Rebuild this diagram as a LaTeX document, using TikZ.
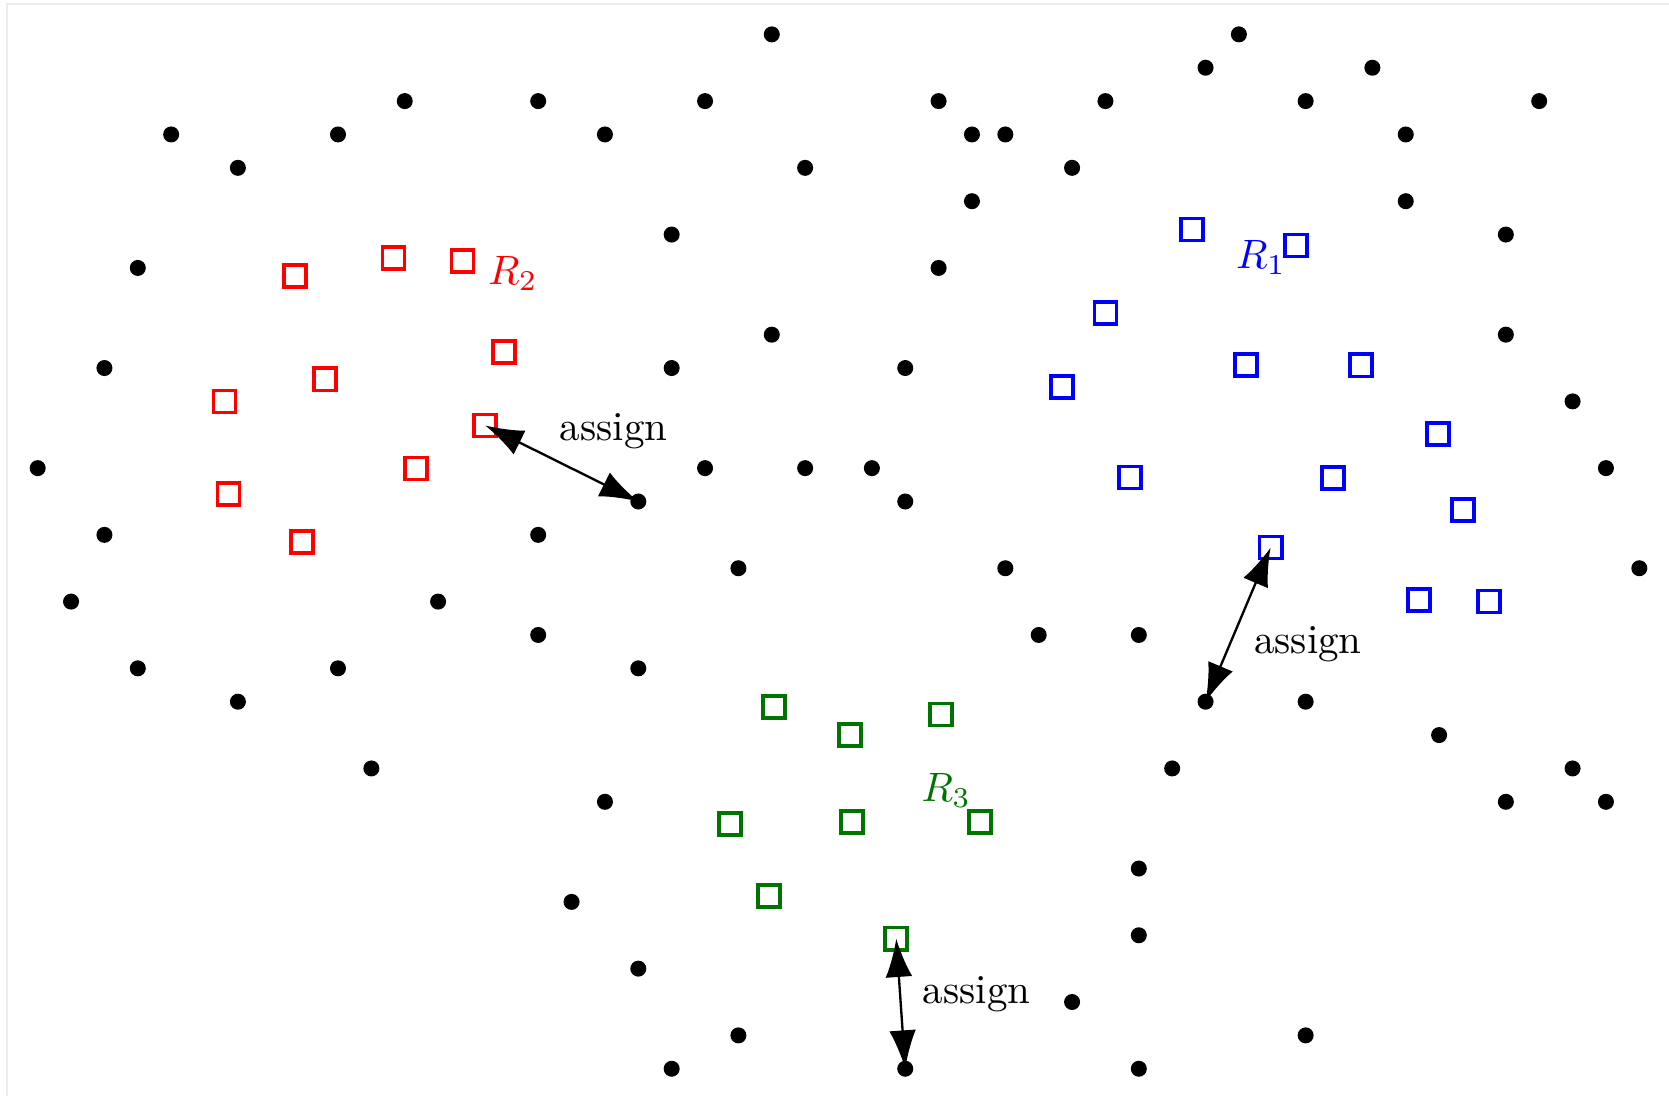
\documentclass[tikz,border=0pt]{standalone}
\usetikzlibrary{arrows.meta}
\colorlet{rgreen}{green!45!black}
\begin{document}
\begin{tikzpicture}[
    pt/.style={circle, fill=black, inner sep=0pt, minimum size=0.48cm},
    cand/.style={rectangle, draw=#1, line width=3.2pt, inner sep=0pt, minimum size=0.66cm},
    lab/.style={scale=3.5, inner sep=0pt},
    assignarrow/.style={{Latex[length=11.5mm,width=8mm]}-{Latex[length=11.5mm,width=8mm]}, line width=2pt}
  ]
  \useasboundingbox (-1.13,1.03) rectangle (48.89,-31.82);
  % Frame
  \draw[gray!15, line width=1.2pt] (-0.92,-31.82) -- (-0.92,0.91) -- (48.89,0.91);
  % Region R2
  \foreach \x/\y [count=\i] in {7.72/7.24, 10.66/6.70, 12.73/6.80, 13.97/9.52, 8.60/10.34,
      5.60/11.00, 13.41/11.72, 11.33/13.01, 5.72/13.77, 7.92/15.22} {
    \node[cand=red] (r\i) at (\x,-\y) {};
  }
  % Region R1
  \foreach \x/\y [count=\i] in {34.60/5.85, 37.70/6.33, 32.00/8.36, 30.69/10.56, 36.22/9.90,
      39.65/9.92, 41.97/11.97, 32.73/13.28, 38.83/13.30, 42.72/14.26, 36.95/15.38,
      41.40/16.95, 43.50/17.00} {
    \node[cand=blue] (b\i) at (\x,-\y) {};
  }
  % Region R3
  \foreach \x/\y [count=\i] in {22.07/20.16, 24.35/21.00, 27.08/20.38, 20.74/23.67,
      24.41/23.60, 28.24/23.60, 21.92/25.82, 25.73/27.10} {
    \node[cand=rgreen] (g\i) at (\x,-\y) {};
  }
  % Points on the grid
  \foreach \k/\j in {22/0, 36/0, 35/1, 40/1,
      11/2, 15/2, 20/2, 27/2, 32/2, 38/2, 45/2,
      4/3, 9/3, 17/3, 28/3, 29/3, 41/3,
      6/4, 23/4, 31/4, 28/5, 41/5, 19/6, 44/6, 3/7, 27/7,
      22/9, 44/9, 2/10, 19/10, 26/10, 46/11,
      0/13, 20/13, 23/13, 25/13, 47/13, 18/14, 26/14,
      2/15, 15/15, 21/16, 29/16, 48/16, 1/17, 12/17,
      15/18, 30/18, 33/18, 3/19, 9/19, 18/19,
      6/20, 35/20, 38/20, 42/21, 10/22, 34/22, 46/22,
      17/23, 44/23, 47/23, 33/25, 16/26, 33/27, 18/28,
      31/29, 21/30, 38/30, 19/31, 26/31, 33/31} {
    \node[pt] (p\k-\j) at (\k,-\j) {};
  }
  % Assignments
  \draw[assignarrow] (r7.center) -- (p18-14.center);
  \draw[assignarrow] (b11.center) -- (p35-20.center);
  \draw[assignarrow] (g8.center) -- (p26-31.center);
  % Labels
  \node[lab] (a1) at (17.26,-11.90) {assign};
  \node[lab] (a2) at (38.07,-18.28) {assign};
  \node[lab] (a3) at (28.14,-28.77) {assign};
  \node[lab, text=red] (l2) at (14.24,-7.17) {$R_2$};
  \node[lab, text=blue] (l1) at (36.66,-6.69) {$R_1$};
  \node[lab, text=rgreen] (l3) at (27.23,-22.67) {$R_3$};
\end{tikzpicture}
\end{document}
